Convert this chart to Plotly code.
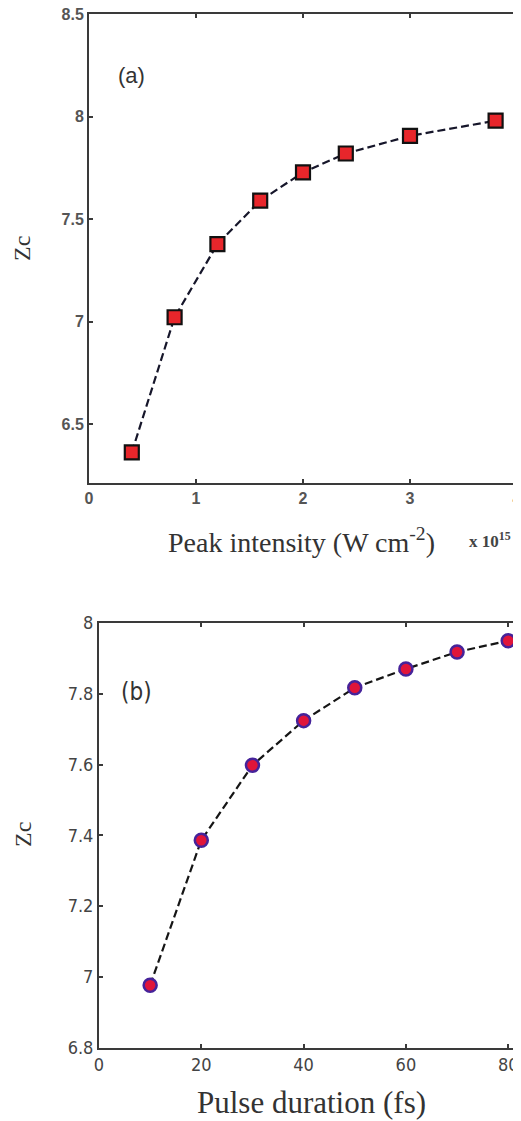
import plotly.graph_objects as go

# ---- data ----
intensity = [0.4, 0.8, 1.2, 1.6, 2.0, 2.4, 3.0, 3.8]          # x 1e15 W cm^-2
zc_intensity = [6.363, 7.022, 7.378, 7.59, 7.728, 7.82, 7.906, 7.98]

duration = [10, 20, 30, 40, 50, 60, 70, 80]                    # fs
zc_duration = [6.976, 7.386, 7.598, 7.724, 7.817, 7.87, 7.918, 7.95]

xticks_a = [0, 1, 2, 3, 4]
yticks_a = [6.5, 7, 7.5, 8, 8.5]
xticks_b = [0, 20, 40, 60, 80]
yticks_b = [6.8, 7.0, 7.2, 7.4, 7.6, 7.8, 8.0]

W, H = 521, 1121
OFF = 8  # page body margin
def px(x): return (x - OFF) / W
def py(y): return 1 - (y - OFF) / H

fig = go.Figure()

fig.add_trace(go.Scatter(
    x=intensity, y=zc_intensity, mode="lines+markers", xaxis="x", yaxis="y",
    line=dict(color="#16162a", width=2.2, dash="8px,4px"),
    marker=dict(symbol="square", size=14, color="#e8262b",
                line=dict(color="#111111", width=2.2)),
    showlegend=False))

fig.add_trace(go.Scatter(
    x=duration, y=zc_duration, mode="lines+markers", xaxis="x2", yaxis="y2",
    line=dict(color="#151515", width=2.2, dash="8px,4px"),
    marker=dict(symbol="circle", size=13, color="#e0153a",
                line=dict(color="#46239a", width=2.5)),
    showlegend=False))

axis_common = dict(showgrid=False, zeroline=False, linecolor="#3a3a3a", linewidth=2,
                   ticks="inside", ticklen=4, tickwidth=1.5, tickcolor="#3a3a3a",
                   automargin=False, ticklabeloverflow="allow")

tick_a = dict(family="Liberation Sans, Arial", size=16, color="#555555", weight="bold")
tick_b = dict(family="DejaVu Sans Condensed, Liberation Sans Narrow, Liberation Sans", size=18, color="#444444")

fig.update_layout(
    width=W, height=H,
    margin=dict(l=0, r=0, t=0, b=0, autoexpand=False),
    paper_bgcolor="white", plot_bgcolor="white",
    xaxis=dict(domain=[px(89), px(517)], range=[0, 4], tickvals=xticks_a,
               anchor="y", mirror="ticks", tickfont=tick_a, **axis_common),
    yaxis=dict(domain=[py(483), py(14)], range=[6.214, 8.5], tickvals=yticks_a,
               anchor="x", mirror="ticks", tickfont=tick_a, **axis_common),
    xaxis2=dict(domain=[px(99), px(521)], range=[0, 82.5], tickvals=xticks_b,
                anchor="y2", mirror="ticks", tickfont=tick_b, **axis_common),
    yaxis2=dict(domain=[py(1047.5), py(623)], range=[6.8, 8.0], tickvals=yticks_b,
                anchor="x2", mirror=False, tickfont=tick_b, **axis_common),
)

serif = "Liberation Serif, Times New Roman, serif"
def note(text, x, y, size, family=serif, angle=0, xanchor="center", weight="normal",
         xref="paper", yref="paper", color="#333333"):
    return dict(text=text, x=x, y=y, xref=xref, yref=yref, showarrow=False,
                xanchor=xanchor, yanchor="middle", textangle=angle,
                font=dict(family=family, size=size, color=color, weight=weight))

ann = [
    note("(a)", 0.4, 8.2, 22, family="Liberation Sans, Arial", xref="x", yref="y"),
    note("(b)", 7.4, 7.806, 24, family="DejaVu Sans Condensed, Liberation Sans Narrow, Liberation Sans", xref="x2", yref="y2"),
    note("Peak intensity (W cm<sup>-2</sup>)", px(301), py(540), 28),
    note("x 10<sup>15</sup>", px(467), py(540), 17, xanchor="left", weight="bold", color="#444444"),
    note("Zc", px(22), py(249), 24, angle=-90),
    note("Zc", px(23), py(835), 24, angle=-90),
    note("Pulse duration (fs)", px(311), py(1102), 31),
]
fig.update_layout(annotations=ann)

fig.write_html("out.html")
